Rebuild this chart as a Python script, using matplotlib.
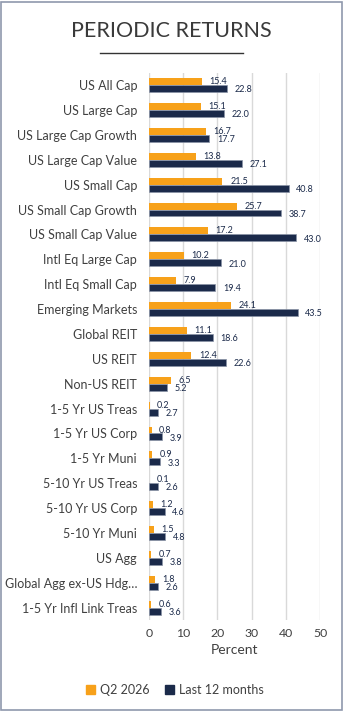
import matplotlib
matplotlib.use("Agg")
import matplotlib.pyplot as plt
import numpy as np
from matplotlib.patches import Rectangle
from matplotlib.lines import Line2D

plt.rcParams['font.family'] = ['Lato', 'DejaVu Sans']

categories = ["US All Cap", "US Large Cap", "US Large Cap Growth", "US Large Cap Value",
              "US Small Cap", "US Small Cap Growth", "US Small Cap Value",
              "Intl Eq Large Cap", "Intl Eq Small Cap", "Emerging Markets",
              "Global REIT", "US REIT", "Non-US REIT", "1-5 Yr US Treas",
              "1-5 Yr US Corp", "1-5 Yr Muni", "5-10 Yr US Treas", "5-10 Yr US Corp",
              "5-10 Yr Muni", "US Agg", "Global Agg ex-US Hdg\u2026", "1-5 Yr Infl Link Treas"]
q2_2026 = [15.4, 15.1, 16.7, 13.8, 21.5, 25.7, 17.2, 10.2, 7.9, 24.1, 11.1, 12.4, 6.5,
           0.2, 0.8, 0.9, 0.1, 1.2, 1.5, 0.7, 1.8, 0.6]
last_12m = [22.8, 22.0, 17.7, 27.1, 40.8, 38.7, 43.0, 21.0, 19.4, 43.5, 18.6, 22.6, 5.2,
            2.7, 3.9, 3.3, 2.6, 4.6, 4.8, 3.8, 2.6, 3.6]
xticks = [0, 10, 20, 30, 40, 50]

orange = "#F7A11A"
navy = "#1B2A4A"
txt = "#404040"

fig = plt.figure(figsize=(3.43, 7.12), dpi=100)
ax = fig.add_axes([0.434, 0.129, 0.499, 0.769])

y = np.arange(len(categories))
h = 0.28
ax.barh(y - h / 2, q2_2026, height=h, color=orange, zorder=3)
ax.barh(y + h / 2, last_12m, height=h, color=navy, edgecolor="#8a93a6", linewidth=0.5, zorder=3)

for yi, a, b in zip(y, q2_2026, last_12m):
    ax.annotate(f"{a:.1f}", (a, yi - h / 2), xytext=(5.5, 0), textcoords="offset points",
                va="center", ha="left", fontsize=6.5, color=navy)
    ax.annotate(f"{b:.1f}", (b, yi + h / 2 + 0.05), xytext=(5.5, 0), textcoords="offset points",
                va="center", ha="left", fontsize=6.5, color=navy)

ax.set_ylim(len(categories) - 0.5, -0.5)
ax.set_xlim(0, 50)
ax.set_yticks(y)
ax.set_yticklabels(categories, fontsize=9, color=txt)
ax.set_xticks(xticks)
ax.set_xticklabels([str(t) for t in xticks], fontsize=8.8, color=txt)
ax.tick_params(length=0, pad=8.5)
ax.tick_params(axis='x', pad=6)
ax.grid(axis='x', color="#d9d9d9", linewidth=1, zorder=0)
for s in ax.spines.values():
    s.set_visible(False)
ax.set_xlabel("Percent", fontsize=10, color=txt, labelpad=3)

fig.text(0.5, 0.957, "PERIODIC RETURNS", ha="center", va="center", fontsize=15.5, color="#3a3a3a")
fig.add_artist(Line2D([100 / 343, 243 / 343], [1 - 53 / 712, 1 - 53 / 712],
                      color="#333333", linewidth=1))

handles = [Rectangle((0, 0), 1, 1, color=orange), Rectangle((0, 0), 1, 1, color=navy)]
fig.legend(handles, ["Q2 2026", "Last 12 months"], loc="center", bbox_to_anchor=(0.51, 0.031),
           ncol=2, frameon=False, fontsize=9, handlelength=0.7, handleheight=0.7,
           handletextpad=0.4, columnspacing=1.2, labelcolor=txt)

fig.add_artist(Rectangle((0.004, 0.003), 0.992, 0.994, transform=fig.transFigure, fill=False,
                         edgecolor="#8f98ad", linewidth=1.2))

fig.savefig("out.png", dpi=100)
